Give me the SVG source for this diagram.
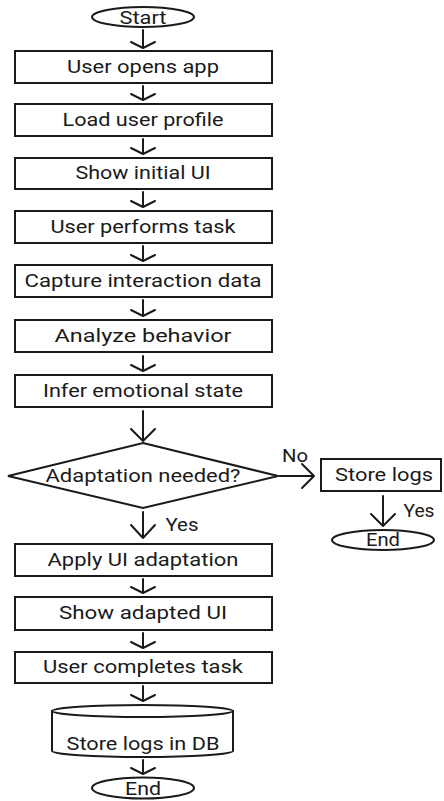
<svg xmlns="http://www.w3.org/2000/svg" width="444" height="801" viewBox="0 0 444 801">
<style>
.s{fill:#fff;stroke:#1a1a1a;stroke-width:2}
.a{fill:none;stroke:#1a1a1a;stroke-width:2;stroke-linecap:round;stroke-linejoin:round}
text{font-family:Roboto,"Liberation Sans",sans-serif;font-size:18px;fill:#1a1a1a;text-anchor:middle}
</style>
<rect width="444" height="801" fill="#fff"/>
<g id="start"><ellipse class="s" cx="143" cy="17" rx="51" ry="10"/><text x="143" y="24" textLength="47" lengthAdjust="spacingAndGlyphs">Start</text></g>
<g id="n1"><rect class="s" x="15" y="51" width="257" height="32"/><text x="143" y="73" textLength="152" lengthAdjust="spacingAndGlyphs">User opens app</text></g>
<g id="n2"><rect class="s" x="15" y="104" width="257" height="32"/><text x="143" y="126" textLength="161" lengthAdjust="spacingAndGlyphs">Load user profile</text></g>
<g id="n3"><rect class="s" x="15" y="158" width="257" height="31"/><text x="143" y="179" textLength="135" lengthAdjust="spacingAndGlyphs">Show initial UI</text></g>
<g id="n4"><rect class="s" x="15" y="211" width="257" height="32"/><text x="143" y="233" textLength="185" lengthAdjust="spacingAndGlyphs">User performs task</text></g>
<g id="n5"><rect class="s" x="15" y="265" width="257" height="32"/><text x="143" y="287" textLength="237" lengthAdjust="spacingAndGlyphs">Capture interaction data</text></g>
<g id="n6"><rect class="s" x="15" y="320" width="257" height="32"/><text x="143" y="342" textLength="177" lengthAdjust="spacingAndGlyphs">Analyze behavior</text></g>
<g id="n7"><rect class="s" x="15" y="375" width="257" height="32"/><text x="143" y="397" textLength="200" lengthAdjust="spacingAndGlyphs">Infer emotional state</text></g>
<g id="dec"><polygon class="s" points="143,443 278,476 143,508 8,476"/><text x="143" y="482" textLength="195" lengthAdjust="spacingAndGlyphs">Adaptation needed?</text></g>
<g id="storelogs"><rect class="s" x="321" y="459" width="120" height="32"/><text x="384" y="481" textLength="98" lengthAdjust="spacingAndGlyphs">Store logs</text></g>
<g id="end2"><ellipse class="s" cx="383" cy="540" rx="51" ry="10"/><text x="383" y="546" textLength="34" lengthAdjust="spacingAndGlyphs">End</text></g>
<g id="n8"><rect class="s" x="15" y="544" width="257" height="32"/><text x="143" y="566" textLength="191" lengthAdjust="spacingAndGlyphs">Apply UI adaptation</text></g>
<g id="n9"><rect class="s" x="15" y="597" width="257" height="33"/><text x="143" y="619" textLength="168" lengthAdjust="spacingAndGlyphs">Show adapted UI</text></g>
<g id="n10"><rect class="s" x="15" y="652" width="257" height="31"/><text x="143" y="673" textLength="200" lengthAdjust="spacingAndGlyphs">User completes task</text></g>
<g id="db"><path class="s" d="M52,711 V751 A90.5,6 0 0 0 233,751 V711 A90.5,6 0 0 0 52,711 Z"/><path class="a" d="M52,711 A90.5,6 0 0 0 233,711"/><text x="143" y="750" textLength="153" lengthAdjust="spacingAndGlyphs">Store logs in DB</text></g>
<g id="end1"><ellipse class="s" cx="143" cy="788" rx="51" ry="10.5"/><text x="143" y="795" textLength="36" lengthAdjust="spacingAndGlyphs">End</text></g>
<g id="connectors">
<path class="a" d="M143,30 V48 M131,42 L143,48 L155,42"/>
<path class="a" d="M143,86 V100 M131,94 L143,100 L155,94"/>
<path class="a" d="M143,139 V154 M131,148 L143,154 L155,148"/>
<path class="a" d="M143,192 V207 M131,201 L143,207 L155,201"/>
<path class="a" d="M143,246 V261 M131,255 L143,261 L155,255"/>
<path class="a" d="M143,300 V316 M131,310 L143,316 L155,310"/>
<path class="a" d="M143,356 V371 M131,365 L143,371 L155,365"/>
<path class="a" d="M143,411 V441 M131,429 L143,441 L155,429"/>
<path class="a" d="M279,476 H314 M302,464 L314,476 L302,488"/>
<path class="a" d="M143,512 V538 M131,525 L143,538 L155,525"/>
<path class="a" d="M383,496 V526 M371,514 L383,526 L395,514"/>
<path class="a" d="M143,579 V593 M131,587 L143,593 L155,587"/>
<path class="a" d="M143,633 V648 M131,642 L143,648 L155,642"/>
<path class="a" d="M143,686 V701 M131,695 L143,701 L155,695"/>
<path class="a" d="M143,760 V774 M131,768 L143,774 L155,768"/>
<text x="295" y="462" textLength="26" lengthAdjust="spacingAndGlyphs">No</text>
<text x="182" y="531" textLength="33" lengthAdjust="spacingAndGlyphs">Yes</text>
<text x="419" y="517" textLength="31" lengthAdjust="spacingAndGlyphs">Yes</text>
</g>
</svg>
